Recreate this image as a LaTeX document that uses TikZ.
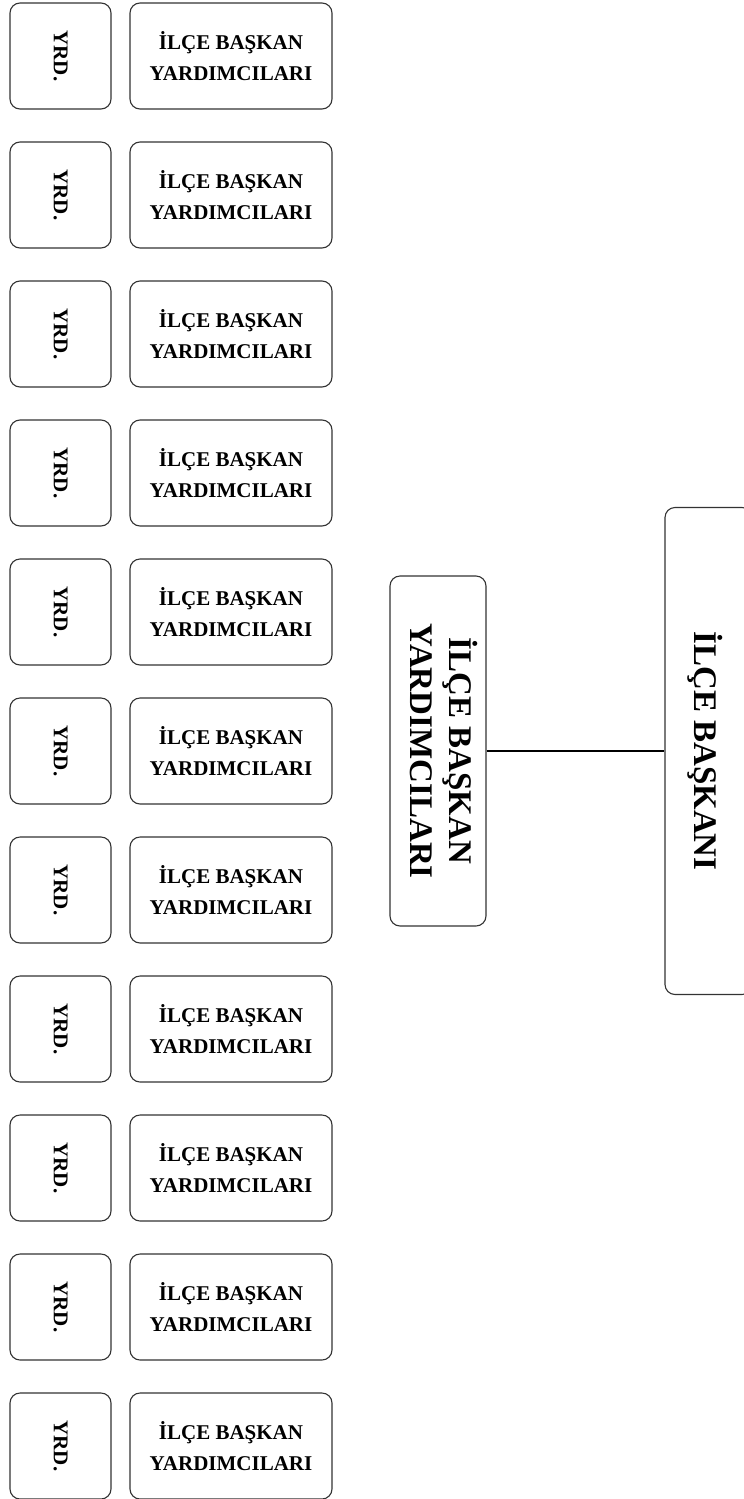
\documentclass[tikz,border=0pt]{standalone}
\usepackage{fontspec}
\setmainfont{Liberation Serif}
\usetikzlibrary{positioning}

\tikzstyle{yrdbox}=[rectangle, draw=black!80, line width=1.1pt, rounded corners=10pt,
                    minimum width=101pt, minimum height=106pt, inner sep=0pt,
                    font=\bfseries\fontsize{21}{31}\selectfont]
\tikzstyle{unitbox}=[yrdbox, minimum width=202pt, align=center]
\tikzstyle{headbox}=[rectangle, draw=black!80, line width=1.1pt, rounded corners=10pt,
                     inner sep=0pt, align=center]

\begin{document}
\begin{tikzpicture}[x=1pt, y=-1pt]
\useasboundingbox (0,0) rectangle (744,1499);
%%%%%%%%%%%%%%%%%%%%%%%%%%%%%%
% nodes

% left column
\node (yrd_1) at (60.5, 56) [yrdbox] {\rotatebox{-90}{YRD.}};
\node (yrd_2) at (60.5, 195) [yrdbox] {\rotatebox{-90}{YRD.}};
\node (yrd_3) at (60.5, 334) [yrdbox] {\rotatebox{-90}{YRD.}};
\node (yrd_4) at (60.5, 473) [yrdbox] {\rotatebox{-90}{YRD.}};
\node (yrd_5) at (60.5, 612) [yrdbox] {\rotatebox{-90}{YRD.}};
\node (yrd_6) at (60.5, 751) [yrdbox] {\rotatebox{-90}{YRD.}};
\node (yrd_7) at (60.5, 890) [yrdbox] {\rotatebox{-90}{YRD.}};
\node (yrd_8) at (60.5, 1029) [yrdbox] {\rotatebox{-90}{YRD.}};
\node (yrd_9) at (60.5, 1168) [yrdbox] {\rotatebox{-90}{YRD.}};
\node (yrd_10) at (60.5, 1307) [yrdbox] {\rotatebox{-90}{YRD.}};
\node (yrd_11) at (60.5, 1446) [yrdbox] {\rotatebox{-90}{YRD.}};

% second column
\node (unit_1) at (231, 56) [unitbox] {İLÇE BAŞKAN\\YARDIMCILARI};
\node (unit_2) at (231, 195) [unitbox] {İLÇE BAŞKAN\\YARDIMCILARI};
\node (unit_3) at (231, 334) [unitbox] {İLÇE BAŞKAN\\YARDIMCILARI};
\node (unit_4) at (231, 473) [unitbox] {İLÇE BAŞKAN\\YARDIMCILARI};
\node (unit_5) at (231, 612) [unitbox] {İLÇE BAŞKAN\\YARDIMCILARI};
\node (unit_6) at (231, 751) [unitbox] {İLÇE BAŞKAN\\YARDIMCILARI};
\node (unit_7) at (231, 890) [unitbox] {İLÇE BAŞKAN\\YARDIMCILARI};
\node (unit_8) at (231, 1029) [unitbox] {İLÇE BAŞKAN\\YARDIMCILARI};
\node (unit_9) at (231, 1168) [unitbox] {İLÇE BAŞKAN\\YARDIMCILARI};
\node (unit_10) at (231, 1307) [unitbox] {İLÇE BAŞKAN\\YARDIMCILARI};
\node (unit_11) at (231, 1446) [unitbox] {İLÇE BAŞKAN\\YARDIMCILARI};

% heads
\node (deputies) at (438, 751) [headbox, minimum width=96pt, minimum height=350pt,
      font=\bfseries\fontsize{33}{39}\selectfont]
      {\rotatebox{-90}{\begin{tabular}{@{}c@{}}İLÇE BAŞKAN\\YARDIMCILARI\end{tabular}}};

% box runs past the right edge of the page
\node (chair) at (708.5, 751) [headbox, minimum width=87pt, minimum height=487pt,
      font=\bfseries\fontsize{33}{38}\selectfont]
      {\hspace*{-7pt}\rotatebox{-90}{İLÇE BAŞKANI}};

%%%%%%%%%%%%%%%%%%%%%%%%%%%%%%
% links
\draw [line width=1.4pt] (deputies.east) -- (chair.west);

\end{tikzpicture}
\end{document}
